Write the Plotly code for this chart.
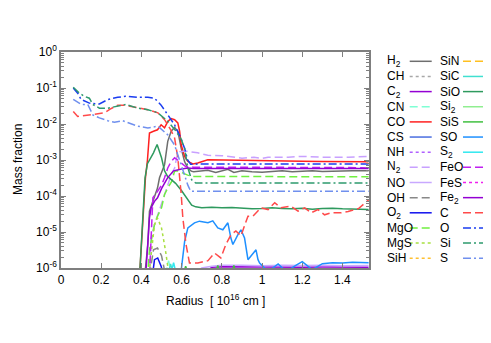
import plotly.graph_objects as go

# ---------------------------------------------------------------- data: radius [1e16 cm] and mass fraction
r_H2 = [0.415, 0.432, 0.44, 0.465, 0.48, 0.49, 0.515, 0.531, 0.548, 0.565, 0.581, 0.598, 0.615, 0.631, 0.648,
        0.66, 0.7, 0.73, 0.77, 0.8, 0.83, 0.86, 0.9, 0.95, 1.0, 1.05, 1.1, 1.15, 1.2, 1.25, 1.3, 1.35, 1.4, 1.45, 1.53]
y_H2 = [5e-7, 4.5e-6, 3.8e-5, 8.9e-5, 1.66e-4, 3.2e-4, 7.4e-4, 3.3e-3, 6.3e-3, 8.0e-3, 6.3e-3, 2.1e-3, 8.9e-4,
        6e-4, 4.9e-4, 4.7e-4, 5e-4, 5.2e-4, 4.5e-4, 5e-4, 5.5e-4, 4.5e-4, 5e-4, 4.7e-4, 4.6e-4, 4.8e-4, 5e-4,
        4.7e-4, 4.8e-4, 5e-4, 4.8e-4, 4.9e-4, 4.8e-4, 5e-4, 5e-4]

r_CO = [0.39, 0.41, 0.42, 0.43, 0.437, 0.44, 0.46, 0.48, 0.498, 0.515, 0.531, 0.548, 0.565, 0.581, 0.59, 0.598,
        0.615, 0.631, 0.656, 0.68, 0.73, 0.8, 0.9, 0.96, 1.0, 1.13, 1.2, 1.3, 1.43, 1.53]
y_CO = [5e-7, 2.5e-5, 3.2e-4, 1e-3, 3.2e-3, 5.6e-3, 6.3e-3, 6.9e-3, 9.5e-3, 7.8e-3, 1.17e-2, 1.41e-2, 1.32e-2,
        1.07e-2, 6.3e-3, 2.6e-3, 1.26e-3, 9.1e-4, 7.8e-4, 8.3e-4, 1.02e-3, 1e-3, 1e-3, 1e-3, 9.5e-4, 9.1e-4,
        9.3e-4, 9.1e-4, 9.1e-4, 8.9e-4]

r_SiO = [0.39, 0.405, 0.418, 0.43, 0.44, 0.46, 0.478, 0.49, 0.5, 0.515, 0.53, 0.55, 0.57, 0.6, 0.63, 0.65, 0.67,
         0.7, 0.75, 0.8, 0.85, 0.9, 0.95, 1.0, 1.05, 1.1, 1.15, 1.2, 1.25, 1.3, 1.35, 1.4, 1.45, 1.53]
y_SiO = [5e-7, 2.5e-5, 3.2e-4, 7.9e-4, 1e-3, 1.58e-3, 2.7e-3, 1.78e-3, 1.15e-3, 5e-4, 3.5e-4, 2.8e-4, 2.24e-4,
         1.4e-4, 7.9e-5, 5.6e-5, 5e-5, 4.7e-5, 4.9e-5, 4.7e-5, 4.8e-5, 4.6e-5, 4.4e-5, 4.5e-5, 4.7e-5, 4.5e-5,
         4.4e-5, 4.6e-5, 4.3e-5, 4.5e-5, 4.6e-5, 4.4e-5, 4.3e-5, 4.2e-5]

r_O = [0.061, 0.083, 0.1, 0.141, 0.191, 0.233, 0.282, 0.322, 0.382, 0.432, 0.465, 0.497, 0.531, 0.565, 0.596,
       0.615, 0.63, 0.645, 0.66, 0.7, 0.8, 0.9, 1.0, 1.1, 1.2, 1.3, 1.4, 1.53]
y_O = [0.1, 0.072, 0.048, 0.038, 0.036, 0.048, 0.055, 0.059, 0.055, 0.055, 0.052, 0.034, 0.018, 0.0095, 0.0041,
       0.0021, 1e-3, 7.6e-4, 7.6e-4, 7.8e-4, 7.8e-4, 7.8e-4, 7.7e-4, 7.8e-4, 7.8e-4, 7.7e-4, 7.8e-4, 7.7e-4]

r_Si = [0.061, 0.091, 0.116, 0.141, 0.158, 0.191, 0.233, 0.282, 0.322, 0.382, 0.432, 0.482, 0.531, 0.565, 0.596,
        0.615, 0.63, 0.65, 0.67, 0.7, 0.8, 0.9, 1.0, 1.1, 1.2, 1.3, 1.4, 1.53]
y_Si = [0.105, 0.072, 0.059, 0.052, 0.035, 0.0275, 0.0275, 0.031, 0.035, 0.0275, 0.025, 0.0204, 0.012, 0.0071,
        0.004, 0.0021, 6.3e-4, 2.8e-4, 2.3e-4, 2.3e-4, 2.3e-4, 2.3e-4, 2.35e-4, 2.3e-4, 2.3e-4, 2.35e-4, 2.3e-4,
        2.3e-4]

r_S = [0.061, 0.1, 0.133, 0.158, 0.191, 0.233, 0.266, 0.307, 0.382, 0.432, 0.482, 0.531, 0.565, 0.596, 0.631,
       0.645, 0.7, 0.8, 0.9, 1.0, 1.1, 1.2, 1.3, 1.4, 1.53]
y_S = [0.048, 0.035, 0.035, 0.018, 0.0148, 0.0123, 0.0112, 0.0123, 0.0087, 0.0078, 0.0087, 0.005, 0.0026, 7.4e-4,
       2e-4, 1.35e-4, 1.35e-4, 1.35e-4, 1.35e-4, 1.38e-4, 1.35e-4, 1.35e-4, 1.37e-4, 1.35e-4, 1.35e-4]

r_C = [0.061, 0.083, 0.149, 0.216, 0.25, 0.282, 0.316, 0.382, 0.432, 0.482, 0.515, 0.546, 0.565, 0.581, 0.59,
       0.598, 0.606, 0.622, 0.639, 0.681, 0.731, 0.764, 0.795, 0.82, 0.845, 0.87, 0.895, 0.913, 0.93, 0.955, 0.98,
       0.994, 1.03, 1.063, 1.094, 1.144, 1.179, 1.212, 1.244, 1.278, 1.311, 1.343, 1.393, 1.428, 1.48, 1.53]
y_C = [0.0224, 0.0162, 0.018, 0.0204, 0.027, 0.033, 0.033, 0.0275, 0.025, 0.0204, 0.0132, 0.0069, 0.0041, 0.00115,
       3.9e-4, 1.1e-4, 2.45e-5, 4.5e-6, 1.38e-6, 1.38e-6, 1.6e-6, 2.6e-6, 1.9e-6, 4.5e-6, 8.3e-6, 1.07e-5, 7.8e-6,
       1.6e-5, 2.75e-5, 2.75e-5, 3.8e-5, 4.7e-5, 4.2e-5, 6.5e-5, 4.7e-5, 5.2e-5, 3.8e-5, 4.7e-5, 3.4e-5, 4.2e-5,
       3e-5, 3.4e-5, 3.4e-5, 3.7e-5, 4.5e-5, 7.8e-5]

r_N2 = [0.44, 0.448, 0.465, 0.49, 0.515, 0.531, 0.548, 0.565, 0.575, 0.59, 0.61, 0.631, 0.68, 0.73, 0.8, 0.85,
        0.9, 0.96, 1.0, 1.03, 1.13, 1.2, 1.3, 1.43, 1.53]
y_N2 = [5e-7, 6.8e-6, 1.6e-5, 4e-5, 1.1e-4, 2e-4, 3.9e-4, 6e-4, 1.15e-3, 1.7e-3, 1.74e-3, 1.74e-3, 1.58e-3,
        1.35e-3, 1.32e-3, 1.2e-3, 1.12e-3, 1.2e-3, 1.1e-3, 1.2e-3, 1.2e-3, 1.26e-3, 1.2e-3, 1.2e-3, 1.26e-3]

r_FeO = [0.44, 0.457, 0.48, 0.5, 0.515, 0.531, 0.548, 0.565, 0.58, 0.6, 0.62, 0.66, 0.7, 0.8, 0.9, 1.0, 1.1, 1.2,
         1.3, 1.4, 1.53]
y_FeO = [6.3e-7, 8.9e-5, 1.35e-4, 2e-4, 3.2e-4, 6e-4, 9e-4, 1.15e-3, 1e-3, 7.9e-4, 6.6e-4, 6.3e-4, 6.3e-4,
         6.2e-4, 6.3e-4, 6.2e-4, 6.2e-4, 6.3e-4, 6.2e-4, 6.2e-4, 6e-4]

r_Fe2 = [0.42, 0.432, 0.44, 0.448, 0.465, 0.48, 0.5, 0.53, 0.56, 0.6, 0.63, 0.66, 0.7, 0.8, 0.9, 1.0, 1.1, 1.2,
         1.3, 1.4, 1.53]
y_Fe2 = [5e-7, 4.5e-6, 2.45e-5, 4.7e-5, 7.1e-5, 8.9e-5, 1.6e-4, 3.2e-4, 5e-4, 5.6e-4, 6e-4, 5.8e-4, 5.8e-4,
         5.9e-4, 5.8e-4, 5.8e-4, 5.9e-4, 5.8e-4, 5.8e-4, 5.8e-4, 5.8e-4]

r_MgO = [0.43, 0.44, 0.465, 0.48, 0.5, 0.515, 0.531, 0.55, 0.565, 0.58, 0.6, 0.63, 0.66, 0.7, 0.8, 0.9, 1.0, 1.1,
         1.2, 1.3, 1.4, 1.53]
y_MgO = [5e-7, 3.2e-6, 1.6e-5, 2.75e-5, 4.7e-5, 1.1e-4, 1.66e-4, 2.5e-4, 4.9e-4, 5e-4, 4.5e-4, 3.8e-4, 3.5e-4,
         3.5e-4, 3.5e-4, 3.5e-4, 3.5e-4, 3.5e-4, 3.5e-4, 3.5e-4, 3.4e-4, 3.4e-4]

r_MgS = [0.435, 0.45, 0.465, 0.48, 0.5, 0.52, 0.54]
y_MgS = [5e-7, 3.5e-6, 1.6e-5, 2.45e-5, 1.3e-5, 3e-6, 5e-7]

r_OH = [0.44, 0.46, 0.48, 0.5, 0.52]
y_OH = [6.3e-7, 3.2e-6, 3.6e-6, 2.2e-6, 6.3e-7]

r_O2 = [0.455, 0.465, 0.481, 0.498, 0.515]
y_O2 = [6.3e-7, 1.7e-6, 1.9e-6, 1.12e-6, 5e-7]

r_SO = [0.595, 0.615, 0.631, 0.664, 0.689, 0.731, 0.755, 0.78, 0.805, 0.83, 0.845, 0.855, 0.88, 0.895, 0.913,
        0.93, 0.97, 0.98, 0.988, 1.0, 1.03, 1.08, 1.12, 1.17, 1.2, 1.25, 1.3, 1.35, 1.4, 1.45, 1.53]
y_SO = [6.3e-7, 5.5e-6, 1.3e-5, 1.8e-5, 2e-5, 1.8e-5, 2.04e-5, 1.3e-5, 1.15e-5, 1.8e-5, 6.8e-6, 4.5e-6, 8.5e-6,
        1.15e-5, 6.8e-6, 1.7e-6, 3.2e-6, 1.7e-6, 1.38e-6, 1.2e-6, 8e-7, 1.3e-6, 8e-7, 1.2e-6, 1.5e-6, 9e-7, 1.32e-6,
        1.4e-6, 1.38e-6, 1.45e-6, 1.4e-6]

r_NO = [0.66, 0.7, 0.75, 0.8, 0.9, 1.0, 1.1, 1.2, 1.3, 1.4, 1.53]
y_NO = [6.3e-7, 1e-6, 1.12e-6, 1.2e-6, 1.2e-6, 1.15e-6, 1.2e-6, 1.17e-6, 1.2e-6, 1.15e-6, 1.17e-6]

r_C2 = [0.7, 0.75, 0.8, 0.9, 1.0, 1.1, 1.2, 1.3, 1.4, 1.53]
y_C2 = [6.3e-7, 1.05e-6, 1.08e-6, 1.06e-6, 1.05e-6, 1.06e-6, 1.05e-6, 1.06e-6, 1.05e-6, 1.05e-6]

r_SiS = [0.6, 0.62, 0.64, 0.76, 0.78, 0.8, 0.84, 0.86, 0.88]
y_SiS = [5e-7, 1.12e-6, 5e-7, 5e-7, 1.17e-6, 5e-7, 5e-7, 1.17e-6, 5e-7]

r_CN = [0.52, 0.535, 0.55]
y_CN = [6.3e-7, 1.6e-6, 6.3e-7]

r_SiC = [0.53, 0.545, 0.56]
y_SiC = [6e-7, 1.3e-6, 6e-7]

r_S2 = [0.545, 0.56, 0.575]
y_S2 = [6.3e-7, 1.4e-6, 6.3e-7]

# species that stay below the plotted range
r_low = [0.0, 1.53]
y_low = [1e-8, 1e-8]

SOLID, DASH, DOT, DASHDOT = "solid", "8px,4px", "3px,3px", "8px,3px,2px,3px"

# (label, radius, fraction, colour, dash)
SPECIES = [
    ("H<sub>2</sub>", r_H2, y_H2, "#6e6e6e", SOLID),
    ("CH", r_low, y_low, "#a8a8a8", DOT),
    ("C<sub>2</sub>", r_C2, y_C2, "#9400d3", SOLID),
    ("CN", r_CN, y_CN, "#7fffd4", DASH),
    ("CO", r_CO, y_CO, "#ff2020", SOLID),
    ("CS", r_low, y_low, "#4a6ee0", SOLID),
    ("NH", r_low, y_low, "#b060ff", DOT),
    ("N<sub>2</sub>", r_N2, y_N2, "#c8a0ff", DASH),
    ("NO", r_NO, y_NO, "#c8a8ff", SOLID),
    ("OH", r_OH, y_OH, "#888888", DASH),
    ("O<sub>2</sub>", r_O2, y_O2, "#1010ee", SOLID),
    ("MgO", r_MgO, y_MgO, "#70f040", DASH),
    ("MgS", r_MgS, y_MgS, "#a8e040", DOT),
    ("SiH", r_low, y_low, "#ffc030", DOT),
    ("SiN", r_low, y_low, "#ffc020", DASH),
    ("SiC", r_SiC, y_SiC, "#40e0d0", SOLID),
    ("SiO", r_SiO, y_SiO, "#2e9a5e", SOLID),
    ("Si<sub>2</sub>", r_low, y_low, "#90ee90", SOLID),
    ("SiS", r_SiS, y_SiS, "#40c040", SOLID),
    ("SO", r_SO, y_SO, "#1e90ff", SOLID),
    ("S<sub>2</sub>", r_S2, y_S2, "#30e8f0", SOLID),
    ("FeO", r_FeO, y_FeO, "#c020f0", DASH),
    ("FeS", r_low, y_low, "#ee20ee", DOT),
    ("Fe<sub>2</sub>", r_Fe2, y_Fe2, "#9400d3", SOLID),
    ("C", r_C, y_C, "#ff4a4a", DASH),
    ("O", r_O, y_O, "#1a3cf0", DASHDOT),
    ("Si", r_Si, y_Si, "#2e9a6e", DASHDOT),
    ("S", r_S, y_S, "#7090ee", DASHDOT),
]

W, H = 491, 343
L, R, T, B = 53, 361, 44, 260   # plot box in pixels
FONT = dict(family="Liberation Sans, Arial, sans-serif", size=12, color="black")
AXIS_GREY = "#7f7f7f"


def px_x(px):
    return (px - L) / (R - L)


def px_y(py):
    return (B - py) / (B - T)


fig = go.Figure()
for label, r, y, colour, dash in SPECIES:
    fig.add_trace(go.Scatter(x=r, y=y, mode="lines", name=label, showlegend=False,
                             line=dict(color=colour, dash=dash, width=1.5)))

# gnuplot-like key: two columns, text left of the line sample
shapes, annotations = [], []
for i, (label, _, _, colour, dash) in enumerate(SPECIES):
    col, row = divmod(i, 14)
    y_row = px_y(53.3 + row * 15.15)
    text_x = 376.7 + col * 53.3
    annotations.append(dict(x=px_x(text_x), y=y_row, xref="paper", yref="paper", text=label,
                            showarrow=False, xanchor="left", yanchor="middle", font=FONT))
    shapes.append(dict(type="line", xref="paper", yref="paper", x0=px_x(text_x + 25), x1=px_x(text_x + 47),
                       y0=y_row, y1=y_row, line=dict(color=colour, dash=dash, width=1.5)))

# axis titles
annotations.append(dict(x=px_x(10), y=0.5, xref="paper", yref="paper", text="Mass fraction", textangle=-90,
                        showarrow=False, xanchor="center", yanchor="middle", font=FONT))
annotations.append(dict(x=0.5, y=px_y(292), xref="paper", yref="paper",
                        text="Radius  [ 10<sup>16</sup> cm ]",
                        showarrow=False, xanchor="center", yanchor="middle", font=FONT))

y_major = [1e-6, 1e-5, 1e-4, 1e-3, 1e-2, 1e-1, 1]
y_text = ["10<sup>-6</sup>", "10<sup>-5</sup>", "10<sup>-4</sup>", "10<sup>-3</sup>", "10<sup>-2</sup>",
          "10<sup>-1</sup>", "10<sup>0</sup>"]
y_minor = [k * 10.0 ** e for e in range(-6, 0) for k in range(2, 10)]

fig.update_layout(
    width=W, height=H,
    margin=dict(l=L, r=W - R, t=T, b=H - B),
    paper_bgcolor="white", plot_bgcolor="white",
    font=FONT,
    showlegend=False,
    shapes=shapes,
    annotations=annotations,
    xaxis=dict(range=[0, 1.532], tickvals=[0, 0.2, 0.4, 0.6, 0.8, 1.0, 1.2, 1.4],
               ticktext=["0", "0.2", "0.4", "0.6", "0.8", "1", "1.2", "1.4"],
               ticks="inside", ticklen=5, tickcolor=AXIS_GREY, tickwidth=1,
               showline=True, linecolor=AXIS_GREY, linewidth=1.5, mirror="ticks",
               showgrid=False, zeroline=False, tickfont=FONT),
    yaxis=dict(type="log", range=[-6, 0], tickvals=y_major, ticktext=y_text,
               ticks="inside", ticklen=5, tickcolor=AXIS_GREY, tickwidth=1,
               minor=dict(tickvals=y_minor, ticks="inside", ticklen=3, tickcolor=AXIS_GREY, showgrid=False),
               showline=True, linecolor=AXIS_GREY, linewidth=1.5, mirror="ticks",
               showgrid=False, zeroline=False, tickfont=FONT),
)

fig.write_html("out.html")
